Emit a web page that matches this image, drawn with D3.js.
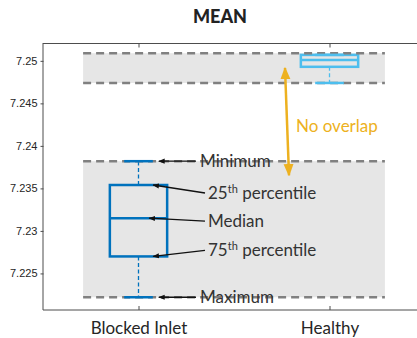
<!DOCTYPE html>
<html><head><meta charset="utf-8">
<script src="https://cdn.jsdelivr.net/npm/d3@7"></script>
<style>body{margin:0;background:#fff;}svg{display:block;}</style>
</head><body>
<script>
const categories = ["Blocked Inlet", "Healthy"];
const whiskerLow = [7.2222, 7.2474];
const q1 = [7.2270, 7.2493];
const median = [7.2315, 7.2501];
const q3 = [7.2354, 7.2507];
const whiskerHigh = [7.2382, 7.2507];
const bandLow = [7.2222, 7.2474];
const bandHigh = [7.2382, 7.2509];
const boxColors = ["#0072BD", "#4DBEEE"];
const yTicks = [7.225, 7.23, 7.235, 7.24, 7.245, 7.25];
const yTickLabels = ["7.225", "7.23", "7.235", "7.24", "7.245", "7.25"];
const annotations = [
  {label: "Minimum", sup: "", value: 7.2382, tailDy: 0},
  {label: "25", sup: "th", rest: " percentile", value: 7.2354, tailDy: 8},
  {label: "Median", sup: "", value: 7.2315, tailDy: 3},
  {label: "75", sup: "th", rest: " percentile", value: 7.2270, tailDy: -6},
  {label: "Maximum", sup: "", value: 7.2222, tailDy: 0}
];

const W = 417, H = 338;
const svg = d3.select("body").append("svg").attr("width", W).attr("height", H);
const x = d3.scaleLinear().domain([0.5, 2.5]).range([43, 425]);
const y = d3.scaleLinear().domain([7.2207, 7.2521]).range([310, 43]);

const defs = svg.append("defs");
function marker(id, color) {
  defs.append("marker").attr("id", id).attr("viewBox", "0 0 10 10").attr("refX", 9).attr("refY", 5)
    .attr("markerWidth", 5).attr("markerHeight", 5).attr("orient", "auto-start-reverse")
    .append("path").attr("d", "M0,1 L10,5 L0,9 z").attr("fill", color);
}
marker("ak", "#111");
marker("ao", "#EDB120");

// title
svg.append("text").attr("x", 220).attr("y", 23).attr("text-anchor", "middle")
  .attr("font-family", "Lato, sans-serif").attr("font-weight", 900).attr("font-size", 18)
  .attr("fill", "#222").text("MEAN");

// bands
const pad = 0.29;
categories.forEach((c, i) => {
  svg.append("rect").attr("x", x(1 - pad)).attr("width", x(2 + pad) - x(1 - pad))
    .attr("y", y(bandHigh[i])).attr("height", y(bandLow[i]) - y(bandHigh[i])).attr("fill", "#e6e6e6");
});

// boxes
const bw = 0.15, cw = 0.075;
categories.forEach((c, i) => {
  const g = svg.append("g").attr("stroke", boxColors[i]).attr("fill", "none");
  const cx = x(i + 1);
  g.append("line").attr("x1", cx).attr("x2", cx).attr("y1", y(q1[i])).attr("y2", y(whiskerLow[i]))
    .attr("stroke-width", 1.3).attr("stroke-dasharray", "4,2.5");
  g.append("line").attr("x1", cx).attr("x2", cx).attr("y1", y(q3[i])).attr("y2", y(whiskerHigh[i]))
    .attr("stroke-width", 1.3).attr("stroke-dasharray", "4,2.5");
  g.append("rect").attr("x", x(i + 1 - bw)).attr("width", x(i + 1 + bw) - x(i + 1 - bw))
    .attr("y", y(q3[i])).attr("height", y(q1[i]) - y(q3[i])).attr("stroke-width", 2.5);
  g.append("line").attr("x1", x(i + 1 - bw)).attr("x2", x(i + 1 + bw))
    .attr("y1", y(median[i])).attr("y2", y(median[i])).attr("stroke-width", 2.5);
});

// dashed band edges
categories.forEach((c, i) => {
  [bandLow[i], bandHigh[i]].forEach(v => {
    svg.append("line").attr("x1", x(1 - pad)).attr("x2", x(2 + pad)).attr("y1", y(v)).attr("y2", y(v))
      .attr("stroke", "#808080").attr("stroke-width", 2.5).attr("stroke-dasharray", "8,5");
  });
});

// whisker caps on top of dashes
categories.forEach((c, i) => {
  [whiskerLow[i], whiskerHigh[i]].forEach(v => {
    svg.append("line").attr("x1", x(i + 1 - cw)).attr("x2", x(i + 1 + cw)).attr("y1", y(v)).attr("y2", y(v))
      .attr("stroke", boxColors[i]).attr("stroke-width", 2.5);
  });
});

// axes frame
const fr = svg.append("g").attr("stroke", "#4d4d4d").attr("stroke-width", 1);
fr.append("line").attr("x1", 43).attr("x2", 43).attr("y1", 43).attr("y2", 310);
fr.append("line").attr("x1", 43).attr("x2", W).attr("y1", 43.5).attr("y2", 43.5);
fr.append("line").attr("x1", 43).attr("x2", W).attr("y1", 310).attr("y2", 310);

const yAxis = d3.axisLeft(y).tickValues(yTicks).tickSize(3).tickFormat((d, i) => yTickLabels[i]);
const ya = svg.append("g").attr("transform", "translate(43.5,0)").call(yAxis);
ya.select(".domain").remove();
ya.selectAll("line").attr("stroke", "#4d4d4d");
ya.selectAll("text").attr("font-family", "Liberation Sans, Arial, sans-serif").attr("font-size", 11)
  .attr("fill", "#262626").attr("x", -6);

const xb = d3.axisBottom(x).tickValues([1, 2]).tickSize(-4).tickFormat((d) => categories[d - 1]);
const xa = svg.append("g").attr("transform", "translate(0,310)").call(xb);
xa.select(".domain").remove();
xa.selectAll("line").attr("stroke", "#4d4d4d");
xa.selectAll("text").attr("font-family", "Lato, sans-serif").attr("font-size", 17)
  .attr("fill", "#262626").attr("dy", 0).attr("y", 24);
const xt = d3.axisTop(x).tickValues([1, 2]).tickSize(-4).tickFormat("");
const xta = svg.append("g").attr("transform", "translate(0,43.5)").call(xt);
xta.select(".domain").remove();
xta.selectAll("line").attr("stroke", "#4d4d4d");

// annotations
annotations.forEach((a, k) => {
  const vy = y(a.value);
  const isEnd = a.sup === "" && a.label !== "Median";
  const headX = isEnd ? x(1 + cw) + 6 : (a.label === "Median" ? x(1 + bw) - 18 : x(1 + bw) - 14);
  const tailX = isEnd ? 196 : 205;
  const textX = isEnd ? 200 : 208;
  svg.append("line").attr("x1", tailX).attr("y1", vy + a.tailDy).attr("x2", headX).attr("y2", vy)
    .attr("stroke", "#111").attr("stroke-width", 1.3).attr("marker-end", "url(#ak)");
  const t = svg.append("text").attr("x", textX).attr("y", vy + a.tailDy + 6)
    .attr("font-family", "Lato, sans-serif").attr("font-size", 17).attr("fill", "#333");
  t.append("tspan").text(a.label);
  if (a.sup) {
    t.append("tspan").attr("font-size", 11).attr("dy", -6).text(a.sup);
    t.append("tspan").attr("dy", 6).text(a.rest);
  }
});

// no overlap arrow
svg.append("line").attr("x1", 289).attr("y1", y(7.2382) + 14).attr("x2", 285).attr("y2", y(7.2474) - 15)
  .attr("stroke", "#EDB120").attr("stroke-width", 2.5)
  .attr("marker-end", "url(#ao)").attr("marker-start", "url(#ao)");
svg.append("text").attr("x", 296).attr("y", 132).attr("font-family", "Lato, sans-serif")
  .attr("font-size", 17).attr("fill", "#EDB120").text("No overlap");
</script>
</body></html>
